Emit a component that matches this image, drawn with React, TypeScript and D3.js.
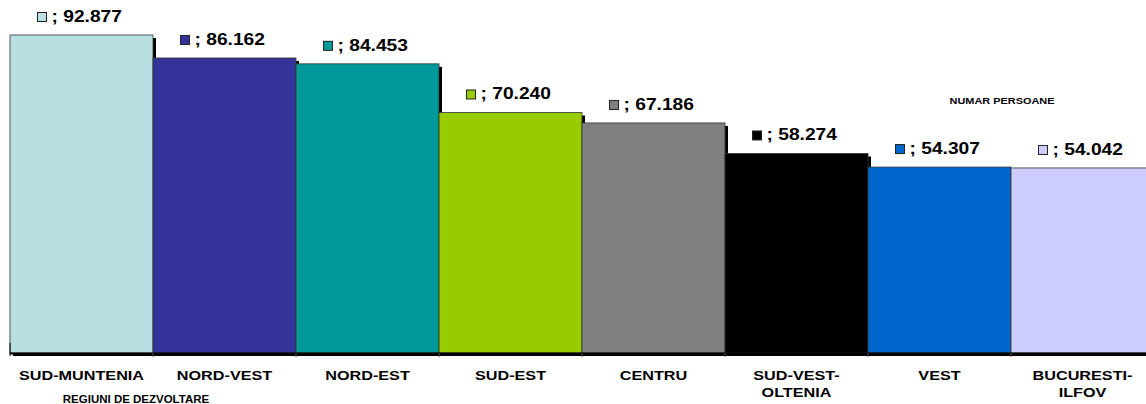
import * as d3 from "d3";

const regions = [
  "SUD-MUNTENIA",
  "NORD-VEST",
  "NORD-EST",
  "SUD-EST",
  "CENTRU",
  "SUD-VEST-OLTENIA",
  "VEST",
  "BUCURESTI-ILFOV",
];
const regionLines = [
  ["SUD-MUNTENIA"],
  ["NORD-VEST"],
  ["NORD-EST"],
  ["SUD-EST"],
  ["CENTRU"],
  ["SUD-VEST-", "OLTENIA"],
  ["VEST"],
  ["BUCURESTI-", "ILFOV"],
];
const persons = [92.877, 86.162, 84.453, 70.24, 67.186, 58.274, 54.307, 54.042];
const valueLabels = ["92.877", "86.162", "84.453", "70.240", "67.186", "58.274", "54.307", "54.042"];
const colors = ["#B8E0E3", "#333399", "#009999", "#99CC00", "#808080", "#000000", "#0066CC", "#CCCCFF"];

export default function App() {
  const width = 1146;
  const height = 404;
  const left = 10;
  const baseY = 353;

  const x = d3.scaleBand<string>().domain(regions).range([left, left + 143 * 8]).padding(0);
  const y = d3.scaleLinear().domain([0, 100]).range([baseY, baseY - 342.4]);
  const bw = x.bandwidth();
  const font = "Arial, 'Liberation Sans', sans-serif";

  return (
    <svg
      width={width}
      height={height}
      style={{ position: "absolute", left: 0, top: 0, background: "#fff" }}
      fontFamily={font}
    >
      {/* shadows */}
      {regions.map((r, i) => (
        <rect key={"s" + r} x={x(r)! + 3} y={y(persons[i]) + 3} width={bw} height={baseY - y(persons[i])} fill="#000" />
      ))}
      {regions.map((r, i) => (
        <rect
          key={r}
          x={x(r)}
          y={y(persons[i])}
          width={bw}
          height={baseY - y(persons[i])}
          fill={colors[i]}
          stroke="#333"
          strokeWidth={0.8}
        />
      ))}
      {/* axis */}
      <line x1={left} x2={width} y1={baseY + 0.5} y2={baseY + 0.5} stroke="#000" strokeWidth={2} />
      <line x1={left} x2={left} y1={baseY - 10} y2={baseY + 3} stroke="#000" strokeWidth={1} />
      {regions.map((r) => (
        <line key={"t" + r} x1={x(r)! + bw} x2={x(r)! + bw} y1={baseY} y2={baseY + 4} stroke="#555" strokeWidth={1} />
      ))}
      {/* value labels */}
      {regions.map((r, i) => {
        const cx = x(r)! + bw / 2;
        const ty = y(persons[i]) - 13;
        return (
          <g key={"v" + r}>
            <rect x={cx - 44} y={ty - 9.5} width={9} height={9} fill={colors[i]} stroke="#222" strokeWidth={1} />
            <text transform={`translate(${cx - 30},${ty}) scale(1.2,1)`} fontSize={16} fontWeight="bold" fill="#000">
              ; {valueLabels[i]}
            </text>
          </g>
        );
      })}
      {/* category labels */}
      {regions.map((r, i) => (
        <text
          key={"c" + r}
          transform={`translate(${x(r)! + bw / 2},380) scale(1.2,1)`}
          textAnchor="middle"
          fontSize={13.5}
          fontWeight="bold"
          fill="#000"
        >
          {regionLines[i].map((ln, j) => (
            <tspan key={j} x={0} dy={j === 0 ? 0 : 17}>
              {ln}
            </tspan>
          ))}
        </text>
      ))}
      <text transform="translate(136,403) scale(1.15,1)" textAnchor="middle" fontSize={10} fontWeight="bold" fill="#000">
        REGIUNI DE DEZVOLTARE
      </text>
      <text transform="translate(1002,104) scale(1.15,1)" textAnchor="middle" fontSize={9.5} fontWeight="bold" fill="#000">
        NUMAR PERSOANE
      </text>
    </svg>
  );
}
